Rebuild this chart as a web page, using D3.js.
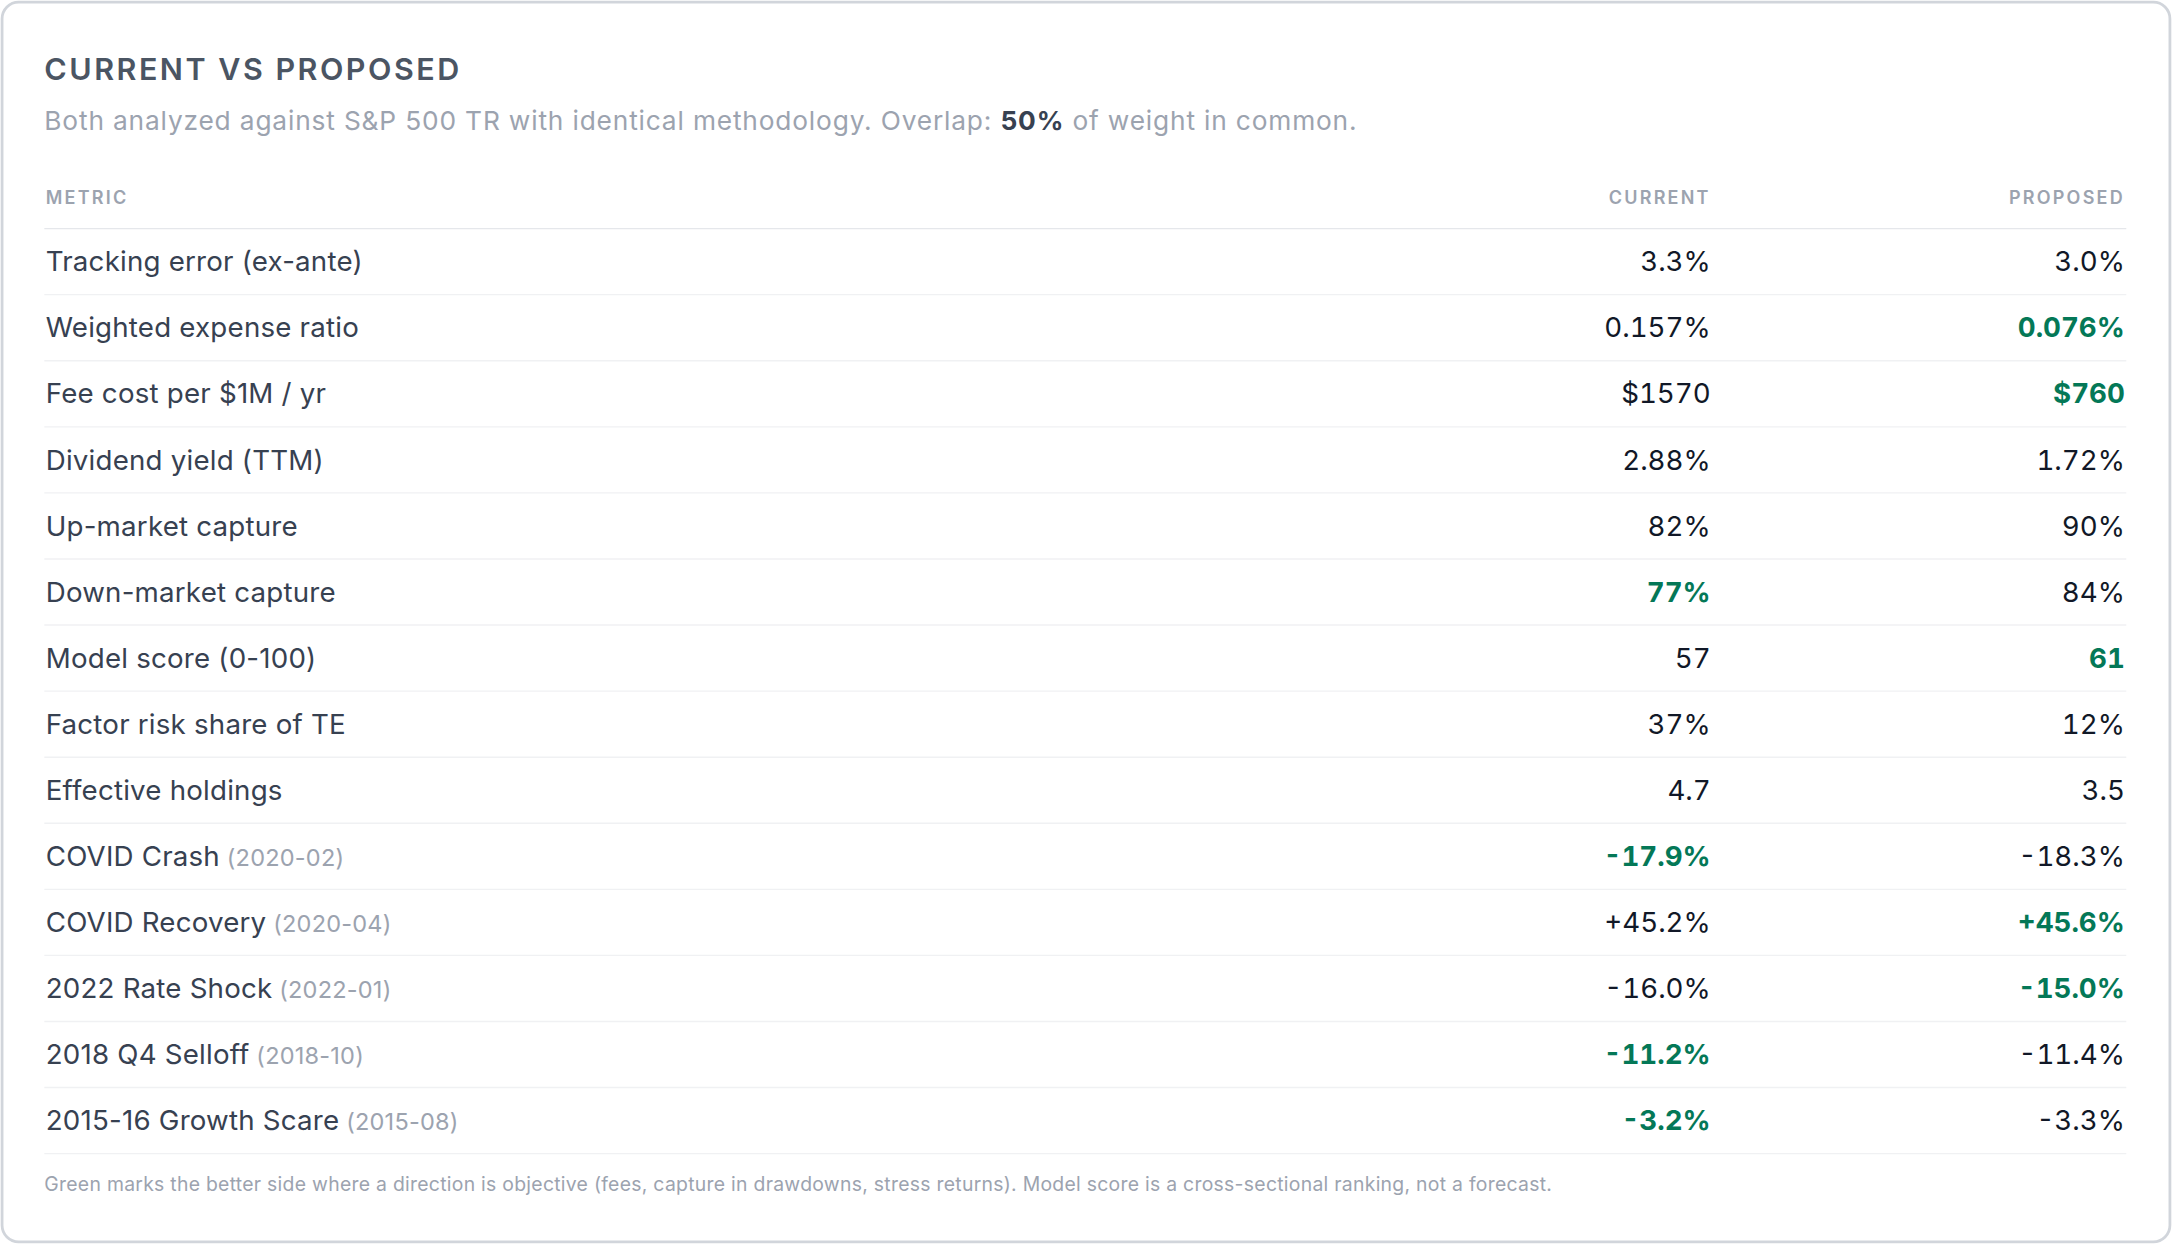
<!DOCTYPE html>
<html><head><meta charset="utf-8">
<script src="https://cdn.jsdelivr.net/npm/d3@7"></script>
<style>html,body{margin:0;padding:0;background:#fff;overflow:hidden}svg{display:block;font-family:Inter,"Noto Sans",sans-serif}</style>
</head><body><svg id="c"></svg>
<script>
const metrics = ["Tracking error (ex-ante)","Weighted expense ratio","Fee cost per $1M / yr","Dividend yield (TTM)","Up-market capture","Down-market capture","Model score (0-100)","Factor risk share of TE","Effective holdings","COVID Crash","COVID Recovery","2022 Rate Shock","2018 Q4 Selloff","2015-16 Growth Scare"];
const dates = ["","","","","","","","","","(2020-02)","(2020-04)","(2022-01)","(2018-10)","(2015-08)"];
const current = ["3.3%","0.157%","$1570","2.88%","82%","77%","57","37%","4.7","-17.9%","+45.2%","-16.0%","-11.2%","-3.2%"];
const proposed = ["3.0%","0.076%","$760","1.72%","90%","84%","61","12%","3.5","-18.3%","+45.6%","-15.0%","-11.4%","-3.3%"];
const better = ["","proposed","proposed","","","current","proposed","","","current","proposed","proposed","current","current"];
const columns = ["METRIC","CURRENT","PROPOSED"];

const W=1568,H=898;
const svg=d3.select("#c").attr("width",2172).attr("height",1244).attr("viewBox",`0 0 ${W} ${H}`);
svg.append("rect").attr("x",1.5).attr("y",1.5).attr("width",W-3).attr("height",H-3).attr("rx",12)
  .attr("fill","#fff").attr("stroke","#d1d5db").attr("stroke-width",2);
svg.append("text").attr("x",32).attr("y",58).attr("font-size",22).attr("font-weight",600)
  .attr("letter-spacing",1.8).attr("fill","#4b5563").text("CURRENT VS PROPOSED");
const sub=svg.append("text").attr("x",32).attr("y",94).attr("font-size",19).attr("letter-spacing",0.6).attr("fill","#9ca3af");
sub.append("tspan").text("Both analyzed against S&P 500 TR with identical methodology. Overlap: ");
sub.append("tspan").attr("fill","#374151").attr("font-weight",700).text("50%");
sub.append("tspan").text(" of weight in common.");

const xL=33, xC=1235, xP=1534;
const colX=[xL,xC,xP], colA=["start","end","end"];
columns.forEach((c,i)=>svg.append("text").attr("x",colX[i]).attr("y",147).attr("text-anchor",colA[i])
  .attr("font-size",13).attr("font-weight",600).attr("letter-spacing",1.6).attr("fill","#9ca3af").text(c));
svg.append("line").attr("x1",32).attr("x2",1535).attr("y1",165).attr("y2",165).attr("stroke","#e5e7eb");

const y=d3.scaleBand().domain(d3.range(metrics.length)).range([165,165+47.7*metrics.length]);
const g=svg.selectAll("g.row").data(metrics).join("g").attr("transform",(d,i)=>`translate(0,${y(i)})`);
g.append("line").attr("x1",32).attr("x2",1535).attr("y1",y.bandwidth()).attr("y2",y.bandwidth()).attr("stroke","#f0f1f3");
const lab=g.append("text").attr("x",xL).attr("y",y.bandwidth()/2+7).attr("font-size",20).attr("letter-spacing",0.15).attr("fill","#374151");
lab.append("tspan").text(d=>d);
lab.append("tspan").attr("font-size",17).attr("fill","#9ca3af").text((d,i)=>dates[i]?" "+dates[i]:"");
[["current",current,xC],["proposed",proposed,xP]].forEach(([k,arr,x])=>{
  g.append("text").attr("x",x).attr("y",y.bandwidth()/2+7).attr("text-anchor","end").attr("font-size",20)
   .style("font-variant-numeric","tabular-nums")
   .attr("fill",(d,i)=>better[i]===k?"#047857":"#111827").attr("font-weight",(d,i)=>better[i]===k?700:400)
   .text((d,i)=>arr[i]);
});
svg.append("text").attr("x",32).attr("y",860).attr("font-size",14).attr("letter-spacing",0.2).attr("fill","#9ca3af")
 .text("Green marks the better side where a direction is objective (fees, capture in drawdowns, stress returns). Model score is a cross-sectional ranking, not a forecast.");
</script></body></html>
